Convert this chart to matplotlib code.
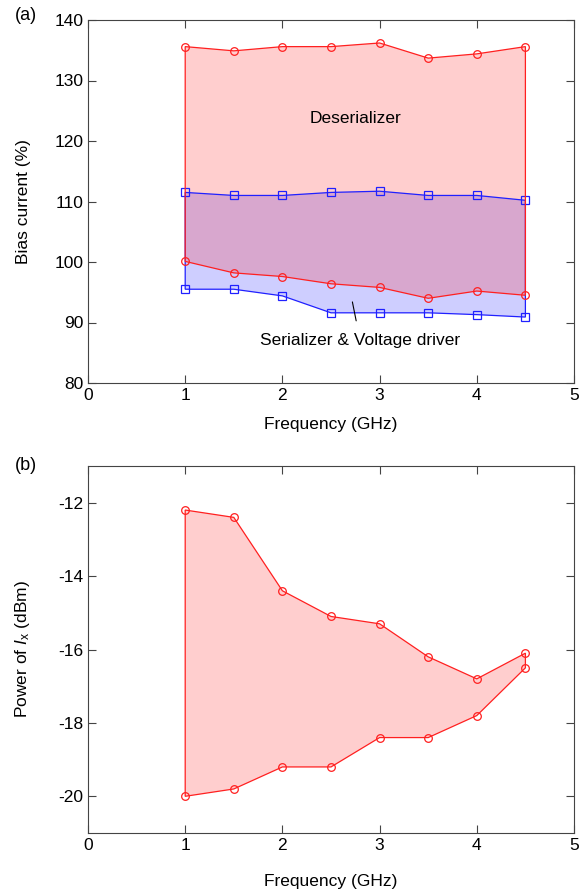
import numpy as np
import matplotlib
matplotlib.use("Agg")
import matplotlib.pyplot as plt

plt.rcParams['font.family'] = ['Liberation Sans', 'DejaVu Sans']
plt.rcParams['font.size'] = 12.5
plt.rcParams['axes.unicode_minus'] = False
plt.rcParams['mathtext.fontset'] = 'custom'
plt.rcParams['mathtext.it'] = 'Liberation Sans:italic'
plt.rcParams['mathtext.rm'] = 'Liberation Sans'

# frequencies (GHz)
freq = [1.0, 1.5, 2.0, 2.5, 3.0, 3.5, 4.0, 4.5]

# (a) bias current margins (%)
deser_hi = [135.6, 134.9, 135.6, 135.6, 136.2, 133.7, 134.4, 135.6]
deser_lo = [100.1, 98.2, 97.6, 96.4, 95.8, 94.0, 95.2, 94.5]
ser_hi = [111.5, 111.0, 111.0, 111.5, 111.7, 111.0, 111.0, 110.2]
ser_lo = [95.5, 95.5, 94.4, 91.6, 91.6, 91.6, 91.3, 90.9]

# (b) power of I_x (dBm)
pow_hi = [-12.2, -12.4, -14.4, -15.1, -15.3, -16.2, -16.8, -16.1]
pow_lo = [-20.0, -19.8, -19.2, -19.2, -18.4, -18.4, -17.8, -16.5]

RED = '#ff2020'
BLUE = '#2020ff'

fig = plt.figure(figsize=(5.88, 8.92), dpi=100)
ax1 = fig.add_axes([88/588, 1-383/892, 486/588, 363/892])
ax2 = fig.add_axes([88/588, 1-833/892, 486/588, 367/892])


def band(ax, x, hi, lo, color, marker, z):
    x = np.asarray(x)
    px = np.concatenate([x, x[::-1]])
    py = np.concatenate([hi, lo[::-1]])
    ax.fill(px, py, facecolor=color, alpha=0.22, edgecolor='none', zorder=z)
    ax.fill(px, py, facecolor='none', edgecolor=color, lw=0.9, zorder=z + 2)
    for y in (hi, lo):
        ax.plot(x, y, ls='none', marker=marker, ms=5.5, mfc='none',
                mec=color, mew=0.9, zorder=z + 2)


band(ax1, freq, ser_hi, ser_lo, BLUE, 's', 1)
band(ax1, freq, deser_hi, deser_lo, RED, 'o', 1.5)
ax1.text(2.75, 123.8, 'Deserializer', ha='center', va='center')
ax1.annotate('Serializer & Voltage driver', xy=(2.72, 93.4), xytext=(2.8, 87.0),
             ha='center', va='center',
             arrowprops=dict(arrowstyle='-', color='black', lw=0.8,
                             shrinkA=7, shrinkB=0))
ax1.set_xlim(0, 5)
ax1.set_ylim(80, 140)
ax1.set_yticks(np.arange(80, 141, 10))
ax1.set_ylabel('Bias current (%)', labelpad=17)
ax1.set_xlabel('Frequency (GHz)', labelpad=10)

band(ax2, freq, pow_hi, pow_lo, RED, 'o', 1)
ax2.set_xlim(0, 5)
ax2.set_ylim(-21, -11)
ax2.set_yticks([-20, -18, -16, -14, -12])
ax2.set_ylabel(r'Power of $I_\mathrm{x}$ (dBm)', labelpad=19)
ax2.set_xlabel('Frequency (GHz)', labelpad=15)

for ax in (ax1, ax2):
    ax.tick_params(direction='in', top=True, right=True, length=6,
                   width=0.8, color='#444444', labelsize=12.5)
    for s in ax.spines.values():
        s.set_linewidth(0.8)
        s.set_color('#444444')

fig.text(15/588, 1-16/892, '(a)', ha='left', va='center', fontsize=13)
fig.text(15/588, 1-466/892, '(b)', ha='left', va='center', fontsize=13)

fig.savefig('out.png', dpi=100)
